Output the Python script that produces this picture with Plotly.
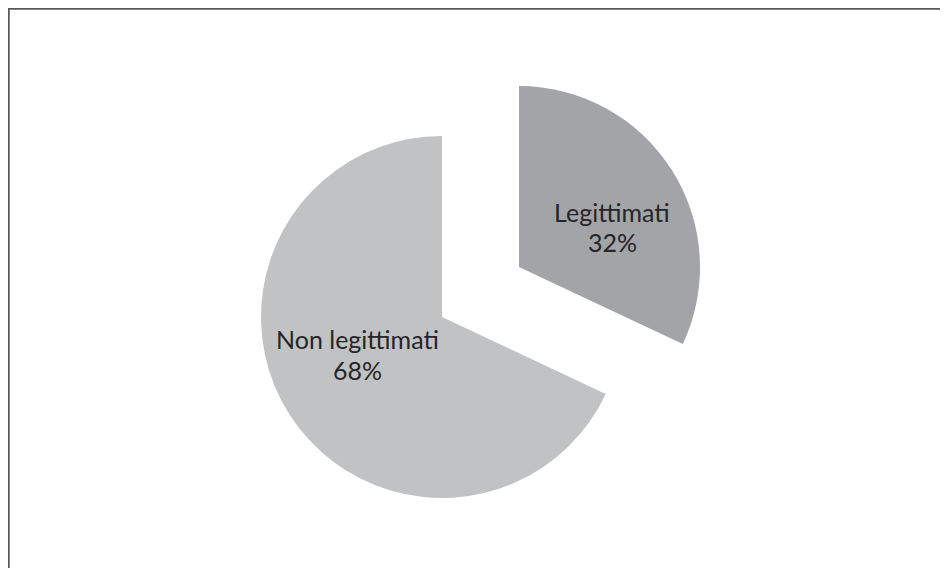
import plotly.graph_objects as go

labels = ["Legittimati", "Non legittimati"]
values = [32, 68]
colors = ["#A3A4A8", "#C1C2C4"]

W, H = 948, 568
OFF = 8  # page body margin
R = 181
# centre of the pie body and of the exploded slice (window pixels)
cA = (442 - OFF, 317 - OFF)
cB = (519 - OFF, 267 - OFF)
# label anchor offsets from the slice vertex (pixels) and line gap
label_off = [(93, -40), (-85, 37)]
LINE_GAP = 31


def dom(c):
    x0, x1 = (c[0] - R) / W, (c[0] + R) / W
    y0, y1 = 1 - (c[1] + R) / H, 1 - (c[1] - R) / H
    return dict(x=[x0, x1], y=[y0, y1])


fig = go.Figure()
fig.add_trace(go.Pie(
    labels=labels, values=values, sort=False, direction="clockwise", rotation=0,
    marker=dict(colors=["rgba(0,0,0,0)", colors[1]], line=dict(width=0)),
    textinfo="none", hoverinfo="skip", showlegend=False, domain=dom(cA),
))
fig.add_trace(go.Pie(
    labels=labels, values=values, sort=False, direction="clockwise", rotation=0,
    marker=dict(colors=[colors[0], "rgba(0,0,0,0)"], line=dict(width=0)),
    textinfo="none", hoverinfo="skip", showlegend=False, domain=dom(cB),
))

font = dict(family="Lato", size=25, color="#262626")
total = sum(values)
for lab, val, c, (dx, dy) in zip(labels, values, [cB, cA], label_off):
    px, py = c[0] + dx, c[1] + dy
    lines = [lab, f"{round(100 * val / total)}%"]
    for k, t in enumerate(lines):
        yy = py + (k - 0.5) * LINE_GAP
        fig.add_annotation(text=t, xref="paper", yref="paper",
                           x=px / W, y=1 - yy / H, xanchor="center", yanchor="middle",
                           showarrow=False, font=font)

fig.add_shape(type="rect", xref="paper", yref="paper",
              x0=0.5 / W, x1=1.02, y0=-0.02, y1=1 - 0.5 / H,
              line=dict(color="#595959", width=2.5), fillcolor="rgba(0,0,0,0)", layer="above")

fig.update_layout(width=W, height=H, margin=dict(l=0, r=0, t=0, b=0),
                  paper_bgcolor="white", plot_bgcolor="white")
fig.write_html("out.html")
